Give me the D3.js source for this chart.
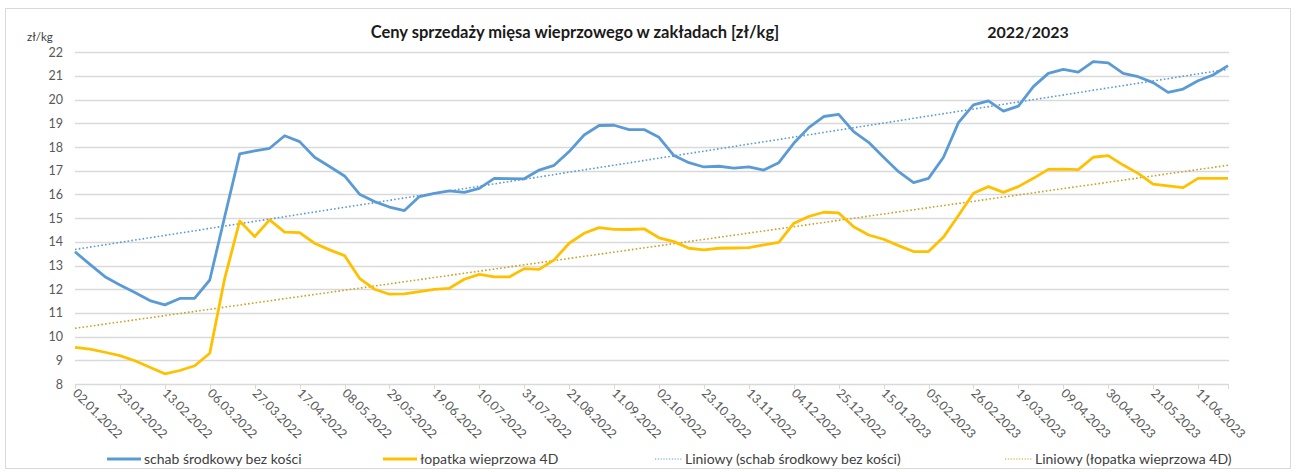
<!DOCTYPE html>
<html>
<head>
  <meta charset="utf-8" />
  <script src="https://d3js.org/d3.v7.min.js"></script>
  <style>
    * { margin: 0; padding: 0; box-sizing: border-box; }
    body { background: #fff; width: 1296px; height: 472px; overflow: hidden; }
    svg { display: block; font-family: Lato, "Open Sans", sans-serif; }
  </style>
</head>
<body>
  <svg width="1296" height="472"></svg>

  <script>
    // weekly prices, first week 02.01.2022
    const startDate = new Date(2022, 0, 2);

    const schab = [
      13.58, 13.05, 12.53, 12.18, 11.86, 11.52, 11.34, 11.61, 11.62, 12.39,
      15.07, 17.71, 17.84, 17.95, 18.48, 18.23, 17.57, 17.18, 16.78, 16.01,
      15.70, 15.47, 15.32, 15.91, 16.05, 16.15, 16.09, 16.26, 16.68, 16.67,
      16.66, 17.03, 17.23, 17.81, 18.51, 18.91, 18.92, 18.74, 18.74, 18.41,
      17.64, 17.34, 17.16, 17.19, 17.11, 17.16, 17.03, 17.34, 18.16, 18.82,
      19.29, 19.38, 18.65, 18.20, 17.57, 16.96, 16.50, 16.68, 17.57, 19.03,
      19.78, 19.95, 19.52, 19.73, 20.55, 21.11, 21.28, 21.16, 21.61, 21.55,
      21.11, 20.97, 20.72, 20.31, 20.45, 20.80, 21.04, 21.44
    ];

    const lopatka = [
      9.55, 9.47, 9.34, 9.20, 8.98, 8.71, 8.43, 8.57, 8.77, 9.30,
      12.46, 14.88, 14.22, 14.93, 14.41, 14.39, 13.94, 13.66, 13.42, 12.46,
      12.00, 11.79, 11.80, 11.90, 11.99, 12.04, 12.42, 12.63, 12.52, 12.52,
      12.87, 12.84, 13.24, 13.94, 14.36, 14.60, 14.53, 14.52, 14.55, 14.17,
      14.01, 13.73, 13.66, 13.73, 13.74, 13.76, 13.87, 13.98, 14.78, 15.07,
      15.25, 15.22, 14.64, 14.29, 14.11, 13.84, 13.59, 13.59, 14.20, 15.11,
      16.05, 16.33, 16.09, 16.33, 16.68, 17.06, 17.07, 17.05, 17.57, 17.64,
      17.24, 16.89, 16.44, 16.36, 16.29, 16.68, 16.68, 16.68
    ];

    const tickLabels = [
      "02.01.2022", "23.01.2022", "13.02.2022", "06.03.2022", "27.03.2022",
      "17.04.2022", "08.05.2022", "29.05.2022", "19.06.2022", "10.07.2022",
      "31.07.2022", "21.08.2022", "11.09.2022", "02.10.2022", "23.10.2022",
      "13.11.2022", "04.12.2022", "25.12.2022", "15.01.2023", "05.02.2023",
      "26.02.2023", "19.03.2023", "09.04.2023", "30.04.2023", "21.05.2023",
      "11.06.2023"
    ];

    const yTicks = [8, 9, 10, 11, 12, 13, 14, 15, 16, 17, 18, 19, 20, 21, 22];

    const seriesNames = [
      "schab środkowy bez kości",
      "łopatka wieprzowa 4D",
      "Liniowy (schab środkowy bez kości)",
      "Liniowy (łopatka wieprzowa 4D)"
    ];

    const blue = "#5B9BD5", gold = "#FFC000", goldTrend = "#C9A227";

    const svg = d3.select("svg");

    // outer frame
    svg.append("rect")
      .attr("x", 5.5).attr("y", 8.5)
      .attr("width", 1285).attr("height", 460)
      .attr("fill", "none").attr("stroke", "#d9d9d9");

    const dates = schab.map((d, i) => d3.timeDay.offset(startDate, 7 * i));
    const fmt = d3.timeFormat("%d.%m.%Y");

    const x = d3.scaleLinear().domain([0, schab.length - 1]).range([75, 1228]);
    const y = d3.scaleLinear().domain([8, 22]).range([384, 52.3]);

    // gridlines
    svg.append("g")
      .selectAll("line")
      .data(yTicks.filter(t => t > 8))
      .join("line")
      .attr("x1", 75).attr("x2", 1229)
      .attr("y1", d => Math.round(y(d)) + 0.5)
      .attr("y2", d => Math.round(y(d)) + 0.5)
      .attr("stroke", "#d9d9d9").attr("stroke-width", 1.3);

    // y axis labels
    svg.append("g")
      .selectAll("text")
      .data(yTicks)
      .join("text")
      .attr("x", 63)
      .attr("y", d => y(d) + 4.5)
      .attr("text-anchor", "end")
      .attr("fill", "#595959")
      .attr("font-size", 12.5)
      .text(d => d);

    svg.append("text")
      .attr("x", 27).attr("y", 41)
      .attr("fill", "#404040").attr("font-size", 11.5)
      .text("zł/kg");

    // x axis
    const tickIdx = tickLabels.map((t, k) => k * 3);
    const xAxis = svg.append("g");
    xAxis.append("line")
      .attr("x1", 75).attr("x2", 1229)
      .attr("y1", 384.5).attr("y2", 384.5)
      .attr("stroke", "#d9d9d9").attr("stroke-width", 1.3);
    xAxis.selectAll("line.tick")
      .data(tickIdx.concat([schab.length - 1]))
      .join("line")
      .attr("class", "tick")
      .attr("x1", d => Math.round(x(d)) + 0.5)
      .attr("x2", d => Math.round(x(d)) + 0.5)
      .attr("y1", 384).attr("y2", 389)
      .attr("stroke", "#d9d9d9");
    xAxis.selectAll("text")
      .data(tickIdx)
      .join("text")
      .attr("transform", d => `translate(${x(d) - 3},${394}) rotate(45)`)
      .attr("fill", "#595959")
      .attr("font-size", 12.5)
      .text((d, k) => tickLabels[k] || fmt(dates[d]));

    // linear trend (least squares)
    function trend(vals) {
      const n = vals.length;
      const mx = d3.mean(vals, (v, i) => i);
      const my = d3.mean(vals);
      const b = d3.sum(vals, (v, i) => (i - mx) * (v - my)) / d3.sum(vals, (v, i) => (i - mx) ** 2);
      const a = my - b * mx;
      return [[0, a], [n - 1, a + b * (n - 1)]];
    }

    const lineGen = d3.line().x((d, i) => x(i)).y(d => y(d));
    const trendLine = d3.line().x(d => x(d[0])).y(d => y(d[1]));

    svg.append("path").datum(trend(schab))
      .attr("d", trendLine).attr("fill", "none")
      .attr("stroke", blue).attr("stroke-width", 1.6)
      .attr("stroke-dasharray", "1.6,2.2");
    svg.append("path").datum(trend(lopatka))
      .attr("d", trendLine).attr("fill", "none")
      .attr("stroke", goldTrend).attr("stroke-width", 1.6)
      .attr("stroke-dasharray", "1.6,2.2");

    svg.append("path").datum(lopatka)
      .attr("d", lineGen).attr("fill", "none")
      .attr("stroke", gold).attr("stroke-width", 2.8)
      .attr("stroke-linejoin", "round");
    svg.append("path").datum(schab)
      .attr("d", lineGen).attr("fill", "none")
      .attr("stroke", blue).attr("stroke-width", 2.8)
      .attr("stroke-linejoin", "round");

    // titles
    svg.append("text")
      .attr("x", 575).attr("y", 38)
      .attr("text-anchor", "middle")
      .attr("font-weight", "bold").attr("font-size", 16.5)
      .attr("fill", "#1a1a1a")
      .text("Ceny sprzedaży mięsa wieprzowego w zakładach [zł/kg]");
    svg.append("text")
      .attr("x", 1028).attr("y", 38)
      .attr("text-anchor", "middle")
      .attr("font-weight", "bold").attr("font-size", 16)
      .attr("fill", "#1a1a1a")
      .text("2022/2023");

    // legend
    const legendItems = [
      { x: 107, color: blue, dash: null, w: 2.8, len: 34 },
      { x: 383, color: gold, dash: null, w: 2.8, len: 34 },
      { x: 655, color: blue, dash: "1.2,1.6", w: 1.2, len: 27 },
      { x: 1005, color: goldTrend, dash: "1.2,1.6", w: 1.2, len: 27 }
    ];
    const lg = svg.append("g").selectAll("g")
      .data(legendItems)
      .join("g")
      .attr("transform", d => `translate(${d.x},459)`);
    lg.append("line")
      .attr("x1", 0).attr("x2", d => d.len).attr("y1", 0).attr("y2", 0)
      .attr("stroke", d => d.color)
      .attr("stroke-width", d => d.w)
      .attr("stroke-dasharray", d => d.dash);
    lg.append("text")
      .attr("x", d => d.len + 3).attr("y", 5)
      .attr("fill", "#404040").attr("font-size", 14)
      .text((d, i) => seriesNames[i]);
  </script>
</body>
</html>
